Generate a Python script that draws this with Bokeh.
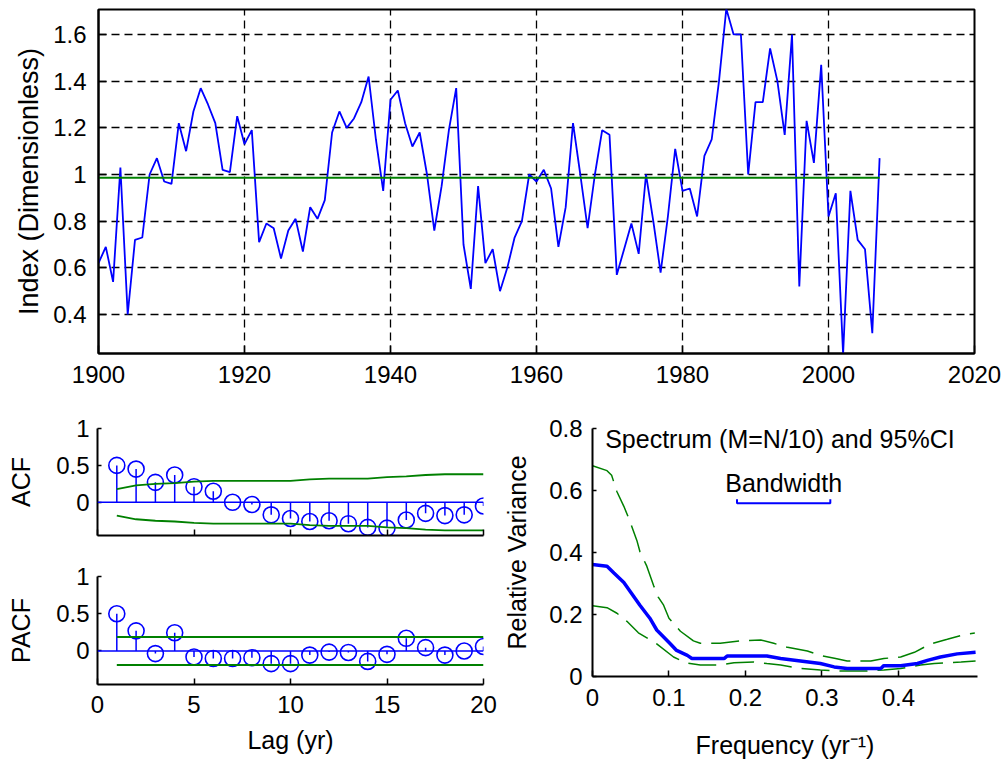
from bokeh.plotting import figure
from bokeh.models import Range1d, FixedTicker, CustomJSTickFormatter, Span, Label
from bokeh.layouts import column, row
from bokeh.embed import file_html
from bokeh.resources import INLINE

# ---------------- data ----------------
YEARS = list(range(1900, 2008))
INDEX = [
    0.62, 0.69, 0.54, 1.03, 0.40, 0.72, 0.73, 1.00, 1.07, 0.97,
    0.96, 1.22, 1.10, 1.27, 1.37, 1.30, 1.22, 1.02, 1.01, 1.25,
    1.13, 1.19, 0.71, 0.79, 0.77, 0.64, 0.76, 0.81, 0.67, 0.86,
    0.81, 0.89, 1.18, 1.27, 1.20, 1.24, 1.31, 1.42, 1.15, 0.93,
    1.32, 1.36, 1.22, 1.12, 1.18, 1.00, 0.76, 0.95, 1.19, 1.37,
    0.70, 0.51, 0.95, 0.62, 0.68, 0.50, 0.60, 0.73, 0.80, 1.00,
    0.97, 1.02, 0.94, 0.69, 0.86, 1.22, 1.00, 0.77, 1.00, 1.19,
    1.17, 0.57, 0.68, 0.79, 0.66, 1.00, 0.80, 0.58, 0.82, 1.11,
    0.93, 0.94, 0.82, 1.08, 1.15, 1.40, 1.71, 1.60, 1.60, 1.00,
    1.31, 1.31, 1.54, 1.40, 1.17, 1.60, 0.52, 1.23, 1.05, 1.47,
    0.82, 0.92, 0.23, 0.93, 0.72, 0.68, 0.32, 1.07,
]
MEAN_INDEX = 0.986
YEAR_TICKS = [1900, 1920, 1940, 1960, 1980, 2000, 2020]
INDEX_TICKS = [0.4, 0.6, 0.8, 1, 1.2, 1.4, 1.6]

LAGS = list(range(1, 21))
ACF = [0.50, 0.45, 0.27, 0.37, 0.21, 0.15, 0.00, -0.03, -0.17, -0.22,
       -0.26, -0.25, -0.29, -0.34, -0.35, -0.24, -0.15, -0.18, -0.17, -0.05]
ACF_CI = [0.18, 0.23, 0.25, 0.26, 0.28, 0.29, 0.29, 0.29, 0.29, 0.29,
          0.31, 0.32, 0.32, 0.32, 0.34, 0.35, 0.37, 0.38, 0.38, 0.38]
PACF = [0.50, 0.27, -0.035, 0.245, -0.08, -0.10, -0.10, -0.09, -0.17, -0.17,
        -0.055, -0.015, -0.02, -0.14, -0.045, 0.17, 0.045, -0.055, 0.0, 0.06]
PACF_CI = 0.188
LAG_TICKS = [0, 5, 10, 15, 20]
CF_TICKS = [0, 0.5, 1]

SPEC_F = [0, 0.019, 0.028, 0.041, 0.05, 0.062, 0.075, 0.084, 0.102, 0.110,
          0.124, 0.130, 0.172, 0.176, 0.228, 0.246, 0.272, 0.298, 0.316, 0.333,
          0.377, 0.381, 0.403, 0.425, 0.438, 0.455, 0.477, 0.501]
SPEC = [0.361, 0.356, 0.334, 0.303, 0.272, 0.230, 0.188, 0.150, 0.105, 0.084,
        0.068, 0.058, 0.058, 0.066, 0.066, 0.058, 0.050, 0.042, 0.031, 0.026,
        0.026, 0.035, 0.035, 0.042, 0.052, 0.063, 0.073, 0.078]
UP_F = [0, 0.019, 0.025, 0.032, 0.041, 0.047, 0.058, 0.062, 0.071, 0.080,
        0.086, 0.093, 0.100, 0.115, 0.132, 0.141, 0.167, 0.193, 0.220, 0.237,
        0.255, 0.281, 0.298, 0.318, 0.333, 0.364, 0.381, 0.403, 0.421, 0.442,
        0.464, 0.484, 0.500]
UP = [0.680, 0.664, 0.649, 0.596, 0.549, 0.513, 0.439, 0.403, 0.356, 0.293,
      0.256, 0.230, 0.188, 0.146, 0.115, 0.107, 0.107, 0.115, 0.118, 0.107,
      0.094, 0.082, 0.068, 0.058, 0.050, 0.050, 0.058, 0.063, 0.078, 0.105,
      0.120, 0.134, 0.140]
LO_F = [0, 0.019, 0.032, 0.045, 0.060, 0.084, 0.106, 0.122, 0.141, 0.167,
        0.185, 0.211, 0.228, 0.246, 0.272, 0.298, 0.318, 0.359, 0.381, 0.403,
        0.429, 0.447, 0.482, 0.501]
LO = [0.228, 0.222, 0.204, 0.178, 0.141, 0.105, 0.063, 0.044, 0.037, 0.037,
      0.044, 0.047, 0.042, 0.037, 0.026, 0.021, 0.018, 0.018, 0.021, 0.026,
      0.037, 0.042, 0.047, 0.050]
FREQ_TICKS = [0, 0.1, 0.2, 0.3, 0.4]
VAR_TICKS = [0, 0.2, 0.4, 0.6, 0.8]
BW_CENTER = 0.25
BW_WIDTH = 0.122
BW_LEVEL = 0.559
BW_TICK = 0.013

# ---------------- style ----------------
FONT = "Liberation Sans"
BLUE = "#0000ff"
GREEN = "#008000"
TICK_FS = "24px"
LABEL_FS = "25px"


def fmt():
    return CustomJSTickFormatter(code="return tick.toString();")


def style_axis(ax, ticks, tick_in=6, standoff=6, label_standoff=8, label_fs=LABEL_FS):
    ax.ticker = FixedTicker(ticks=ticks)
    ax.formatter = fmt()
    ax.axis_line_color = "black"
    ax.axis_line_width = 2
    ax.major_tick_in = tick_in
    ax.major_tick_out = 0
    ax.major_tick_line_width = 1.5
    ax.minor_tick_line_color = None
    ax.major_label_text_font = FONT
    ax.major_label_text_font_size = TICK_FS
    ax.major_label_text_color = "black"
    ax.major_label_standoff = standoff
    ax.axis_label_text_font = FONT
    ax.axis_label_text_font_size = label_fs
    ax.axis_label_text_font_style = "normal"
    ax.axis_label_text_color = "black"
    ax.axis_label_standoff = label_standoff


def base_fig(**kw):
    p = figure(output_backend="svg", toolbar_location=None, **kw)
    p.background_fill_color = "white"
    p.border_fill_color = "white"
    return p


# ---------------- top: time series ----------------
p1 = base_fig(width=1004, height=400,
              x_range=Range1d(1900, 2020), y_range=Range1d(0.233, 1.707),
              min_border_left=98, min_border_right=30, min_border_top=9, min_border_bottom=47)
p1.outline_line_color = "black"
p1.outline_line_width = 2
style_axis(p1.xaxis[0], YEAR_TICKS, tick_in=8, standoff=12)
style_axis(p1.yaxis[0], INDEX_TICKS, tick_in=8, standoff=12, label_standoff=6, label_fs="27px")
p1.yaxis.axis_label = "Index (Dimensionless)"
for g in (p1.xgrid[0], p1.ygrid[0]):
    g.grid_line_color = "black"
    g.grid_line_dash = "8 5"
    g.grid_line_width = 1.3
p1.line(YEARS, INDEX, line_color=BLUE, line_width=1.8)
p1.line([YEARS[0], YEARS[-1]], [MEAN_INDEX, MEAN_INDEX], line_color=GREEN, line_width=1.8)

# ---------------- ACF / PACF ----------------
zeros = [0] * len(LAGS)


def stem_panel(height, vals, upper, lower, ylabel, show_x, border_top, border_bottom):
    p = base_fig(width=500, height=height,
                 x_range=Range1d(0, 20), y_range=Range1d(-0.45, 1),
                 min_border_left=97, min_border_right=17,
                 min_border_top=border_top, min_border_bottom=border_bottom)
    p.outline_line_color = None
    p.xgrid.grid_line_color = None
    p.ygrid.grid_line_color = None
    style_axis(p.xaxis[0], LAG_TICKS, tick_in=6, standoff=11, label_standoff=10)
    style_axis(p.yaxis[0], CF_TICKS, tick_in=4, standoff=8, label_standoff=18)
    p.yaxis.axis_label = ylabel
    if show_x:
        p.xaxis.axis_label = "Lag (yr)"
    else:
        p.xaxis.major_label_text_font_size = "0px"
        p.xaxis.major_label_text_color = None
        p.xaxis.major_label_standoff = 0
    p.add_layout(Span(location=0, dimension="width", line_color=BLUE, line_width=1.5))
    p.segment(x0=LAGS, y0=zeros, x1=LAGS, y1=vals, line_color=BLUE, line_width=1.5)
    p.scatter(LAGS, vals, marker="circle", size=16, fill_color=None,
              line_color=BLUE, line_width=1.6)
    p.line(LAGS, upper, line_color=GREEN, line_width=1.8)
    p.line(LAGS, lower, line_color=GREEN, line_width=1.8)
    return p


p2 = stem_panel(148, ACF, ACF_CI, [-v for v in ACF_CI], "ACF", False, 28, 13)
p3 = stem_panel(213, PACF, [PACF_CI] * len(LAGS), [-PACF_CI] * len(LAGS), "PACF", True, 28, 77)

# ---------------- spectrum ----------------
p4 = base_fig(width=504, height=361,
              x_range=Range1d(0, 0.5035), y_range=Range1d(0, 0.8),
              min_border_left=92, min_border_right=27, min_border_top=28, min_border_bottom=78)
p4.outline_line_color = None
p4.xgrid.grid_line_color = None
p4.ygrid.grid_line_color = None
style_axis(p4.xaxis[0], FREQ_TICKS, tick_in=6, standoff=12, label_standoff=22)
style_axis(p4.yaxis[0], VAR_TICKS, tick_in=4, standoff=10, label_standoff=15)
p4.xaxis.axis_label = "Frequency (yr\u207b\u00b9)"
p4.yaxis.axis_label = "Relative Variance"
p4.line(UP_F, UP, line_color=GREEN, line_width=1.5, line_dash="28 10")
p4.line(LO_F, LO, line_color=GREEN, line_width=1.5, line_dash="28 10")
p4.line(SPEC_F, SPEC, line_color=BLUE, line_width=3.5)
bw_x0 = BW_CENTER - BW_WIDTH / 2
bw_x1 = BW_CENTER + BW_WIDTH / 2
p4.line([bw_x0, bw_x0, bw_x1, bw_x1],
        [BW_LEVEL + BW_TICK, BW_LEVEL, BW_LEVEL, BW_LEVEL + BW_TICK],
        line_color=BLUE, line_width=2)
p4.add_layout(Label(x=0.0166, y=0.765, text="Spectrum (M=N/10) and 95%CI",
                    text_font=FONT, text_font_size=LABEL_FS, text_color="black",
                    text_align="left", text_baseline="alphabetic"))
p4.add_layout(Label(x=BW_CENTER, y=0.623, text="Bandwidth",
                    text_font=FONT, text_font_size=LABEL_FS, text_color="black",
                    text_align="center", text_baseline="alphabetic"))

layout = column(p1, row(column(p2, p3), p4))
open("out.html", "w").write(file_html(layout, INLINE))
